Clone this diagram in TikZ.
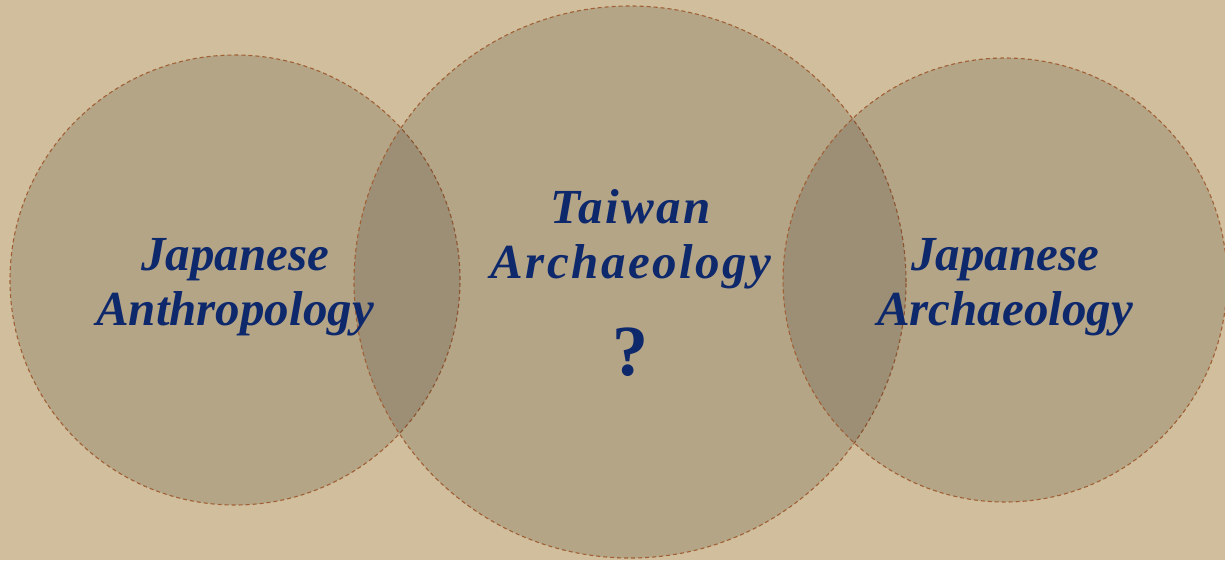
\documentclass[tikz,border=0pt]{standalone}
\usepackage{fontspec}
\setmainfont{Liberation Serif}
\definecolor{paper}{RGB}{208,190,156}
\definecolor{rim}{RGB}{160,96,54}
\definecolor{ink}{RGB}{14,40,108}
\begin{document}
\begin{tikzpicture}[x=1pt,y=-1pt,
  disc/.style={circle,fill=black,fill opacity=0.13,draw=rim,draw opacity=1,line width=1.1pt,dash pattern=on 4pt off 3pt,inner sep=0pt},
  lbl/.style={text=ink,font=\fontsize{49}{55}\selectfont\bfseries\itshape,align=center,inner sep=0pt},
  spaced/.style={lbl,font=\fontsize{49}{55}\selectfont\bfseries\itshape\addfontfeature{LetterSpace=5}}]
\useasboundingbox (0,0) rectangle (1225,560);
\fill[paper] (0,0) rectangle (1225,560);
\begin{scope}
\clip (0,0) rectangle (1225,560);
\node[disc,minimum size=450pt] (left) at (235,280) {};
\node[disc,minimum size=552pt] (mid) at (630,282) {};
\node[disc,minimum size=444pt] (right) at (1005,280) {};
\end{scope}
\node[lbl,anchor=base] (lt1) at (235,270) {Japanese};
\node[lbl,anchor=base] (lt2) at (235,325) {Anthropology};
\node[spaced,anchor=base] (mt1) at (631,223) {Taiwan};
\node[spaced,anchor=base] (mt2) at (631,278) {Archaeology};
\node[lbl,anchor=base,font=\fontsize{72}{72}\selectfont\bfseries] (mt3) at (630,375) {?};
\node[lbl,anchor=base] (rt1) at (1005,270) {Japanese};
\node[lbl,anchor=base] (rt2) at (1005,325) {Archaeology};
\end{tikzpicture}
\end{document}
